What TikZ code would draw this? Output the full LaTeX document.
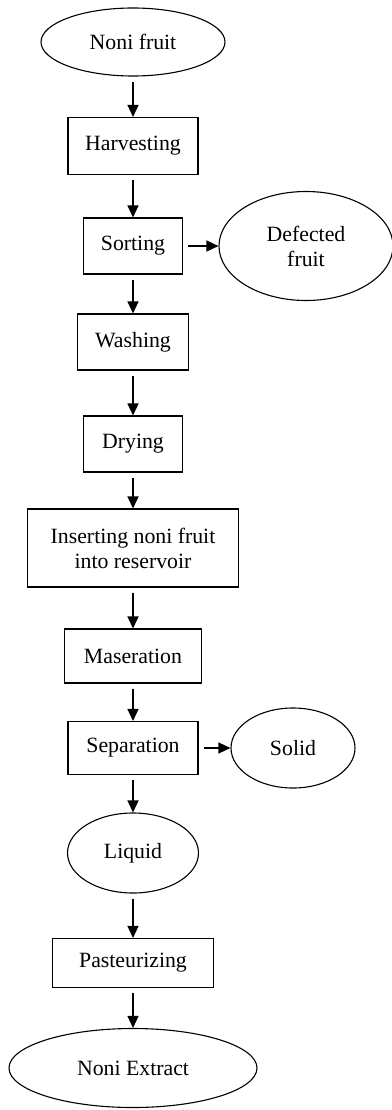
\documentclass[tikz,border=0pt]{standalone}
\usepackage{fontspec}
\setmainfont{Liberation Serif}
\usepackage{tikz}
\usetikzlibrary{shapes,arrows.meta}
\tikzstyle{line} = [line width=0.028cm, -{Triangle[length=0.24cm,width=0.22cm]}, shorten <=0.1cm]
\tikzstyle{elli} = [draw, ellipse, line width=0.022cm, inner sep=0pt, text centered, align=center, font=\fontsize{12.4}{14.2}\selectfont]
\tikzstyle{block} = [draw, rectangle, line width=0.022cm, inner sep=0pt, text centered, align=center, minimum height=1.12cm, font=\fontsize{12.4}{14.2}\selectfont]

\begin{document}
\begin{tikzpicture}
        \useasboundingbox (0,0) rectangle (7.82,-22.2);
        \node[elli, minimum width=3.68cm, minimum height=1.36cm](NoniFruit) at (2.66,-0.84){Noni fruit};
        \node[block, below of=NoniFruit, node distance=2.08cm, minimum width=2.6cm, minimum height=1.14cm](Harvesting){Harvesting};
        \node[block, below of=Harvesting, node distance=2.0cm, minimum width=1.98cm](Sorting){Sorting};
        \node[elli, right of=Sorting, node distance=3.46cm, minimum width=3.48cm, minimum height=2.18cm](Defected){Defected\\fruit};
        \node[block, below of=Sorting, node distance=1.92cm, minimum width=2.22cm](Washing){Washing};
        \node[block, below of=Washing, node distance=2.04cm, minimum width=1.98cm](Drying){Drying};
        \node[block, below of=Drying, node distance=2.08cm, minimum width=4.22cm, minimum height=1.56cm](Inserting){Inserting noni fruit\\into reservoir};
        \node[block, below of=Inserting, node distance=2.16cm, minimum width=2.74cm, minimum height=1.08cm](Maseration){Maseration};
        \node[block, below of=Maseration, node distance=1.84cm, minimum width=2.6cm, minimum height=1.06cm](Separation){Separation};
        \node[elli, right of=Separation, node distance=3.2cm, minimum width=2.48cm, minimum height=1.6cm](Solid){Solid};
        \node[elli, below of=Separation, node distance=2.1cm, minimum width=2.62cm, minimum height=1.6cm](Liquid){Liquid};
        \node[block, below of=Liquid, node distance=2.2cm, minimum width=3.22cm, minimum height=0.98cm](Pasteurizing){Pasteurizing};
        \node[elli, below of=Pasteurizing, node distance=2.1cm, minimum width=4.96cm, minimum height=1.58cm](NoniExtract){Noni Extract};
        \path[line](NoniFruit.south) edge (Harvesting.north);
        \path[line](Harvesting.south) edge (Sorting.north);
        \path[line](Sorting) edge (Defected);
        \path[line](Sorting.south) edge (Washing.north);
        \path[line](Washing.south) edge (Drying.north);
        \path[line](Drying.south) edge (Inserting.north);
        \path[line](Inserting.south) edge (Maseration.north);
        \path[line](Maseration.south) edge (Separation.north);
        \path[line](Separation) edge (Solid);
        \path[line](Separation.south) edge (Liquid.north);
        \path[line](Liquid.south) edge (Pasteurizing.north);
        \path[line](Pasteurizing.south) edge (NoniExtract.north);
    \end{tikzpicture}
\end{document}
